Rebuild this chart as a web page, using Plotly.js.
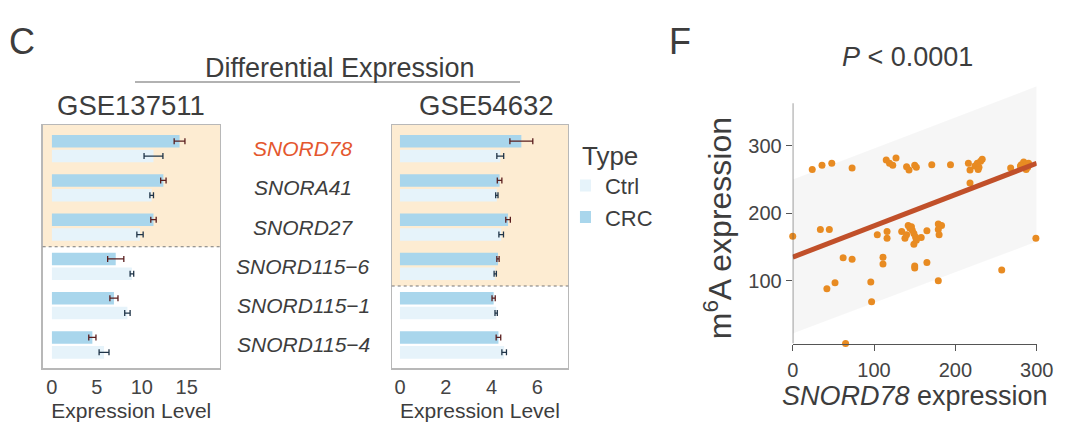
<!DOCTYPE html>
<html>
<head>
<meta charset="utf-8">
<script src="https://cdn.plot.ly/plotly-3.0.1.min.js"></script>
<style>body{margin:0;background:#fff}</style>
</head>
<body>
<div id="fig" style="width:1080px;height:445px"></div>
<script>
// genes shown in panel C (top to bottom)
const genes = ['SNORD78', 'SNORA41', 'SNORD27', 'SNORD115-6', 'SNORD115-1', 'SNORD115-4'];
const geneLabels = ['SNORD78', 'SNORA41', 'SNORD27', 'SNORD115\u22126', 'SNORD115\u22121', 'SNORD115\u22124'];

// GSE137511
const crc1 = [14.2, 12.4, 11.3, 7.1, 6.9, 4.5];
const crc1Err = [0.6, 0.3, 0.3, 0.9, 0.45, 0.4];
const ctrl1 = [11.3, 11.1, 9.8, 8.9, 8.4, 5.8];
const ctrl1Err = [1.05, 0.2, 0.35, 0.2, 0.3, 0.55];

// GSE54632
const crc2 = [5.3, 4.35, 4.72, 4.28, 4.09, 4.3];
const crc2Err = [0.5, 0.1, 0.1, 0.05, 0.07, 0.1];
const ctrl2 = [4.38, 4.23, 4.42, 4.16, 4.2, 4.55];
const ctrl2Err = [0.15, 0.05, 0.1, 0.05, 0.05, 0.1];

// panel F: SNORD78 vs m6A
const snord78 = [0, 24, 36, 48, 73, 34, 45, 62, 73, 52, 42, 65, 96, 97, 179, 257, 299,
  115, 127, 119, 123, 140, 143, 150, 152, 171, 194, 216, 218, 224, 227, 229, 231, 233, 228, 218, 268, 281, 284, 286, 280, 287, 290, 289,
  104, 116, 116, 134, 138, 140, 142, 146, 147, 149, 151, 149, 158, 165, 179, 183, 179, 180, 111, 111, 150, 150, 165, 152, 144];
const m6a = [166, 265, 271, 274, 267, 176, 176, 134, 132, 97, 88, 7, 98, 69, 100, 116, 163,
  279, 282, 274, 271, 269, 264, 271, 268, 272, 272, 274, 264, 270, 274, 268, 277, 280, 265, 245, 267, 272, 276, 271, 270, 265, 274, 268,
  168, 173, 163, 173, 163, 168, 182, 180, 175, 170, 165, 154, 164, 174, 184, 182, 176, 168, 135, 125, 122, 119, 127, 160, 178];

// fitted line and prediction band
const fitX = [0, 300];
const fitY = [135, 274];
const bandLo = [22, 158];
const bandHi = [250, 388];

const crcColor = '#a9d6ec';
const ctrlColor = '#e6f3fa';
const txt = '#3d3d3d';
const font = 'Liberation Sans, Arial, sans-serif';

function barTrace(name, vals, errs, color, errColor, xa, ya, legend, rank) {
  return {
    type: 'bar', orientation: 'h', name: name,
    x: vals, y: genes, xaxis: xa, yaxis: ya,
    marker: {color: color},
    error_x: {type: 'data', array: errs, color: errColor, thickness: 1.3, width: 3},
    showlegend: legend, legendrank: rank, hoverinfo: 'x'
  };
}

let data = [
  barTrace('CRC', crc1, crc1Err, crcColor, '#5a1e1e', 'x', 'y', false, 2),
  barTrace('Ctrl', ctrl1, ctrl1Err, ctrlColor, '#1f3448', 'x', 'y', false, 1),
  barTrace('CRC', crc2, crc2Err, crcColor, '#5a1e1e', 'x2', 'y2', true, 2),
  barTrace('Ctrl', ctrl2, ctrl2Err, ctrlColor, '#1f3448', 'x2', 'y2', true, 1),
  {type: 'scatter', mode: 'lines', x: fitX, y: bandLo, xaxis: 'x3', yaxis: 'y3',
    line: {width: 0}, showlegend: false, hoverinfo: 'skip'},
  {type: 'scatter', mode: 'lines', x: fitX, y: bandHi, xaxis: 'x3', yaxis: 'y3',
    line: {width: 0}, fill: 'tonexty', fillcolor: 'rgba(0,0,0,0.035)', showlegend: false, hoverinfo: 'skip'},
  {type: 'scatter', mode: 'markers', x: snord78, y: m6a, xaxis: 'x3', yaxis: 'y3',
    marker: {color: '#e88b22', size: 7}, cliponaxis: false, showlegend: false},
  {type: 'scatter', mode: 'lines', x: fitX, y: fitY, xaxis: 'x3', yaxis: 'y3',
    line: {color: '#c1502a', width: 5}, showlegend: false}
];

const boxAxis = {showline: true, mirror: true, linecolor: '#b8b8b8', linewidth: 1.2,
  ticks: '', showgrid: false, zeroline: false};
const catAxis = Object.assign({}, boxAxis, {type: 'category', categoryarray: genes,
  range: [5.6, -0.6], showticklabels: false, domain: [0.172, 0.719]});

let annotations = [
  {text: 'C', x: 0.0204, y: 0.906, font: {size: 36}},
  {text: 'F', x: 0.6296, y: 0.906, font: {size: 36}},
  {text: 'Differential Expression', x: 0.3148, y: 0.847, font: {size: 27}},
  {text: 'GSE137511', x: 0.1213, y: 0.762, font: {size: 27.5}},
  {text: 'GSE54632', x: 0.45, y: 0.762, font: {size: 27.5}},
  {text: '<i>P</i> &lt; 0.0001', x: 0.8407, y: 0.872, font: {size: 27}},
  {text: 'm<sup>6</sup>A expression', x: 0.6648, y: 0.487, textangle: -90, font: {size: 32}}
].map(a => Object.assign({xref: 'paper', yref: 'paper', showarrow: false,
  xanchor: 'center', yanchor: 'middle'}, a, {font: Object.assign({color: txt}, a.font)}));

genes.forEach((g, i) => {
  annotations.push({text: '<i>' + geneLabels[i] + '</i>', xref: 'paper', x: 0.2806,
    yref: 'y', y: g, showarrow: false, xanchor: 'center', yanchor: 'middle',
    font: {size: 21, color: i === 0 ? '#e4572e' : txt}});
});

let layout = {
  width: 1080, height: 445,
  margin: {l: 0, r: 0, t: 0, b: 0},
  paper_bgcolor: '#fff', plot_bgcolor: '#fff',
  font: {family: font, color: txt},
  barmode: 'group', bargap: 0.24, bargroupgap: 0.16,
  xaxis: Object.assign({}, boxAxis, {domain: [0.0395, 0.2037], range: [-1.03, 18.7],
    tickvals: [0, 5, 10, 15], tickfont: {size: 20, color: '#444'}, anchor: 'y',
    title: {text: 'Expression Level', font: {size: 21}, standoff: 6}}),
  yaxis: Object.assign({}, catAxis, {anchor: 'x'}),
  xaxis2: Object.assign({}, boxAxis, {domain: [0.3627, 0.5262], range: [-0.36, 7.35],
    tickvals: [0, 2, 4, 6], tickfont: {size: 20, color: '#444'}, anchor: 'y2',
    title: {text: 'Expression Level', font: {size: 21}, standoff: 6}}),
  yaxis2: Object.assign({}, catAxis, {anchor: 'x2'}),
  xaxis3: {domain: [0.734, 0.9599], range: [0, 300], tickvals: [0, 100, 200, 300],
    showline: true, linecolor: '#555', linewidth: 1.2, ticks: 'outside', ticklen: 6,
    tickcolor: '#555', showgrid: false, zeroline: false, anchor: 'y3',
    tickfont: {size: 20, color: '#444'}, ticklabelstandoff: 2,
    title: {text: '<i>SNORD78</i> expression', font: {size: 27}, standoff: 6}},
  yaxis3: {domain: [0.228, 0.809], range: [7, 390], tickvals: [100, 200, 300],
    showline: false, ticks: 'outside', ticklen: 6, tickcolor: '#555',
    showgrid: false, zeroline: false, anchor: 'x3',
    tickfont: {size: 20, color: '#444'}},
  legend: {x: 0.537, y: 0.706, xanchor: 'left', yanchor: 'top', bgcolor: 'rgba(0,0,0,0)',
    traceorder: 'normal', indentation: -15,
    font: {size: 22, color: txt}, title: {text: 'Type', font: {size: 26, color: txt}},
    itemwidth: 30},
  shapes: [
    {type: 'rect', xref: 'x domain', x0: 0, x1: 1, yref: 'y', y0: -0.6, y1: 2.5,
      fillcolor: '#fdecd2', line: {width: 0}, layer: 'below'},
    {type: 'line', xref: 'x domain', x0: 0, x1: 1, yref: 'y', y0: 2.5, y1: 2.5,
      line: {color: '#777', width: 1, dash: 'dot'}},
    {type: 'rect', xref: 'x2 domain', x0: 0, x1: 1, yref: 'y2', y0: -0.6, y1: 3.5,
      fillcolor: '#fdecd2', line: {width: 0}, layer: 'below'},
    {type: 'line', xref: 'x2 domain', x0: 0, x1: 1, yref: 'y2', y0: 3.5, y1: 3.5,
      line: {color: '#777', width: 1, dash: 'dot'}},
    {type: 'line', xref: 'paper', yref: 'paper', x0: 0.125, x1: 0.4815, y0: 0.8157, y1: 0.8157,
      line: {color: '#666', width: 1.2}},
    // y axis line of panel F stops below the band top
    {type: 'line', xref: 'x3', yref: 'y3', x0: 0, x1: 0, y0: 7, y1: 363,
      line: {color: '#555', width: 1.2}}
  ],
  annotations: annotations
};

Plotly.newPlot('fig', data, layout, {displayModeBar: false, staticPlot: true});
</script>
</body>
</html>
